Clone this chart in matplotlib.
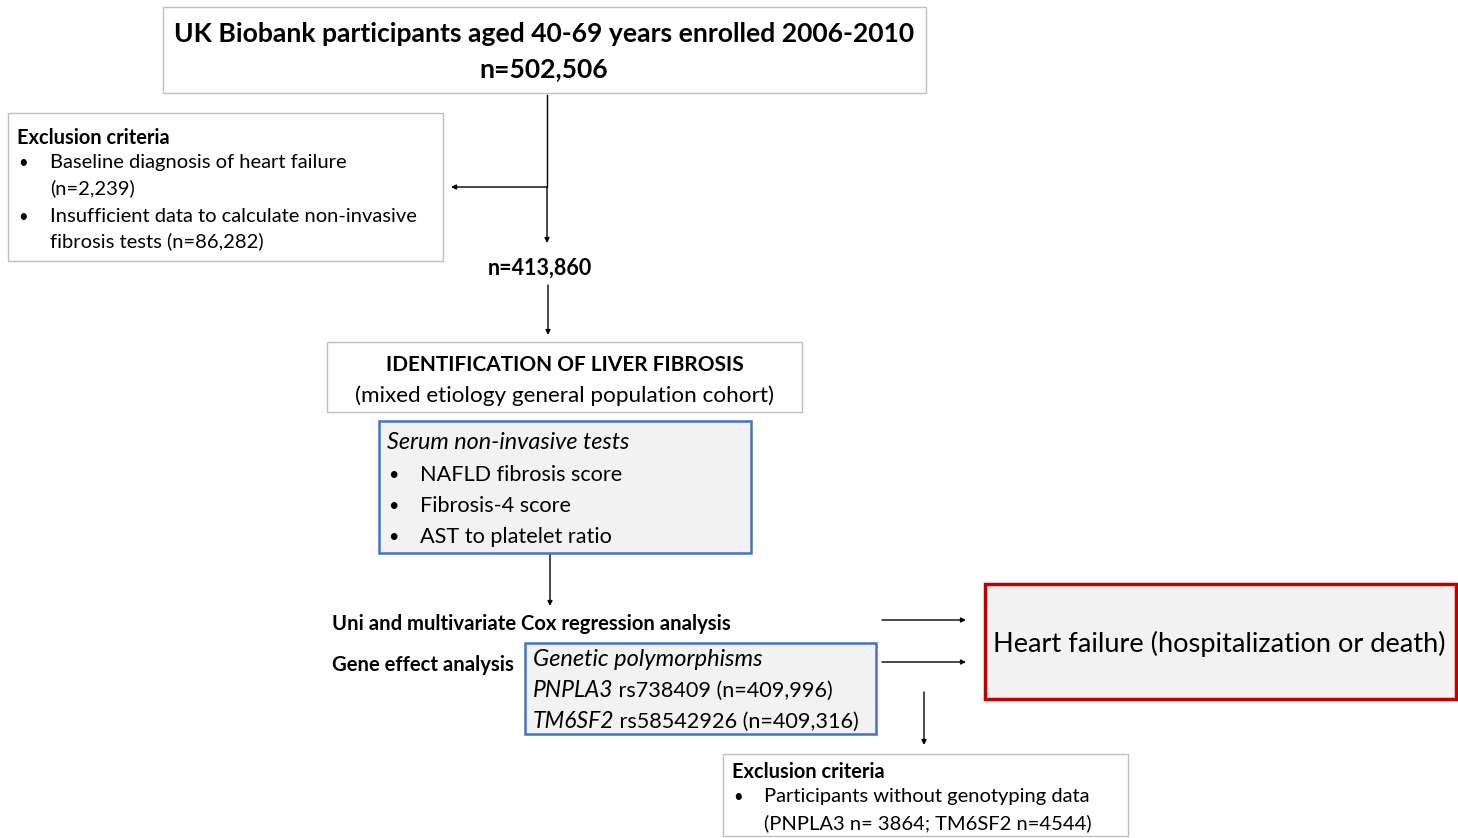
import matplotlib
matplotlib.use('Agg')
import matplotlib.pyplot as plt
import matplotlib.patches as patches

plt.rcParams['font.family'] = ['Lato', 'DejaVu Sans']

# 文本内容
title_lines = ['UK Biobank participants aged 40-69 years enrolled 2006-2010', 'n=502,506']
excl1_title = 'Exclusion criteria'
excl1_items = [['Baseline diagnosis of heart failure', '(n=2,239)'],
               ['Insufficient data to calculate non-invasive', 'fibrosis tests (n=86,282)']]
n_after = 'n=413,860'
id_lines = ['IDENTIFICATION OF LIVER FIBROSIS', '(mixed etiology general population cohort)']
serum_title = 'Serum non-invasive tests'
serum_items = ['NAFLD fibrosis score', 'Fibrosis-4 score', 'AST to platelet ratio']
cox_label = 'Uni and multivariate Cox regression analysis'
gene_label = 'Gene effect analysis'
gene_title = 'Genetic polymorphisms'
gene_rows = [('PNPLA3', ' rs738409 (n=409,996)'), ('TM6SF2', ' rs58542926 (n=409,316)')]
outcome = 'Heart failure (hospitalization or death)'
excl2_title = 'Exclusion criteria'
excl2_lines = ['Participants without genotyping data', '(PNPLA3 n= 3864; TM6SF2 n=4544)']

W, H = 1458, 838
fig = plt.figure(figsize=(W / 100, H / 100), dpi=100)
ax = fig.add_axes([0, 0, 1, 1])
ax.set_xlim(0, W)
ax.set_ylim(H, 0)
ax.axis('off')

gray_edge = '#bfbfbf'
blue_edge = '#4472c4'
red_edge = '#c00000'
fill = '#f2f2f2'
dy = 1.5  # Lato 的垂直居中略偏上，整体下移一点


def box(x0, y0, x1, y1, ec, fc='white', lw=1.0):
    ax.add_patch(patches.Rectangle((x0, y0), x1 - x0, y1 - y0, linewidth=lw,
                                   edgecolor=ec, facecolor=fc))


def txt(x, y, s, **kw):
    return ax.text(x, y + dy, s, va='center', **kw)


def arrow(x0, y0, x1, y1):
    ax.annotate('', xy=(x1, y1), xytext=(x0, y0),
                arrowprops=dict(arrowstyle='-|>', color='black', lw=1.0,
                                mutation_scale=7, shrinkA=0, shrinkB=0))


# 顶部框
box(163, 7, 926, 93, gray_edge)
txt(544, 33, title_lines[0], ha='center', fontsize=19.1, fontweight='bold')
txt(544, 68, title_lines[1], ha='center', fontsize=19.1, fontweight='bold')

# 排除标准 1
box(8, 113, 443, 261, gray_edge)
txt(17, 136, excl1_title, ha='left', fontsize=14.4, fontweight='bold')
ys = [161, 187, 215, 240]
k = 0
for item in excl1_items:
    txt(18, ys[k], '•', ha='left', fontsize=12)
    for line in item:
        txt(50, ys[k], line, ha='left', fontsize=14.5)
        k += 1

# 连线
ax.plot([547, 547], [95, 187], color='black', lw=1.0)
arrow(547, 187, 547, 243)
arrow(547, 187, 451, 187)
txt(540, 267, n_after, ha='center', fontsize=15.5, fontweight='bold')
arrow(548, 285, 548, 335)

# 肝纤维化识别
box(327, 342, 802, 412, gray_edge)
txt(565, 363, id_lines[0], ha='center', fontsize=15, fontweight='bold')
txt(565, 394, id_lines[1], ha='center', fontsize=16.2)

box(379, 421, 751, 553, blue_edge, fill, lw=1.8)
txt(387, 441, serum_title, ha='left', fontsize=16.8, style='italic')
for i, item in enumerate(serum_items):
    y = 473 + i * 31
    txt(388, y, '•', ha='left', fontsize=13)
    txt(420, y, item, ha='left', fontsize=15.6)

arrow(550, 555, 550, 606)

# 分析
txt(332, 622, cox_label, ha='left', fontsize=14.6, fontweight='bold')
txt(332, 663, gene_label, ha='left', fontsize=14.6, fontweight='bold')

box(525, 643, 876, 734, blue_edge, fill, lw=1.8)
txt(533, 658, gene_title, ha='left', fontsize=17, style='italic')
fig.canvas.draw()
renderer = fig.canvas.get_renderer()
for i, (gene, rest) in enumerate(gene_rows):
    y = 689 + i * 31
    t = txt(533, y, gene, ha='left', fontsize=16.5, style='italic')
    bb = t.get_window_extent(renderer=renderer)
    # 斜体基因名之后接正体文字
    x_end = ax.transData.inverted().transform((bb.x1, 0))[0]
    txt(x_end, y, rest, ha='left', fontsize=15.6)

arrow(882, 620, 966, 620)
arrow(882, 662, 966, 662)

box(985, 584, 1456, 699, red_edge, fill, lw=2.5)
txt(1219, 642, outcome, ha='center', fontsize=19.6)

arrow(924, 692, 924, 745)

# 排除标准 2
box(723, 754, 1128, 836, gray_edge)
txt(732, 770, excl2_title, ha='left', fontsize=14.4, fontweight='bold')
txt(733, 795, '•', ha='left', fontsize=12)
txt(764, 795, excl2_lines[0], ha='left', fontsize=14.5)
txt(764, 822, excl2_lines[1], ha='left', fontsize=14.5)

plt.savefig('out.png', dpi=100)
